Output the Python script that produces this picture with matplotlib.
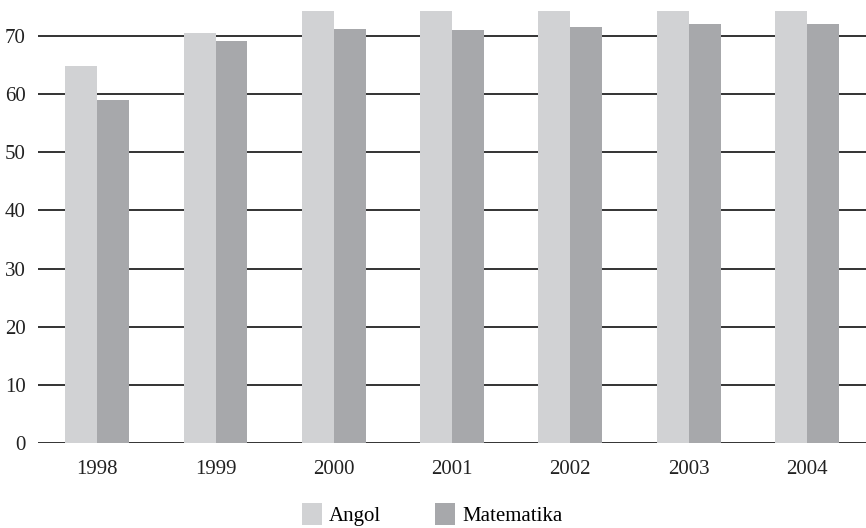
import numpy as np
import matplotlib.pyplot as plt

years = ['1998', '1999', '2000', '2001', '2002', '2003', '2004']
angol = [64.8, 70.5, 76, 76, 76, 76, 76]
matematika = [59.0, 69.1, 71.2, 71.0, 71.6, 72.1, 72.1]
yticks = [0, 10, 20, 30, 40, 50, 60, 70]

plt.rcParams['font.family'] = ['Liberation Serif', 'DejaVu Serif']

fig = plt.figure(figsize=(8.66, 5.28), dpi=100)
ax = fig.add_axes([0.044, 0.161, 0.956, 0.818])

x = np.arange(len(years))
w = 0.27
ax.bar(x - w / 2, angol, width=w, color='#d1d2d4', label='Angol', zorder=3)
ax.bar(x + w / 2, matematika, width=w, color='#a7a8ab', label='Matematika', zorder=3)

ax.set_xlim(-0.5, len(years) - 0.5)
ax.set_ylim(0, 74.3)
ax.set_yticks(yticks)
ax.set_xticks(x)
ax.set_xticklabels(years)
ax.yaxis.grid(True, color='#333333', linewidth=1.4, zorder=1)
ax.set_axisbelow(True)
for s in ax.spines.values():
    s.set_visible(False)
ax.tick_params(length=0, labelsize=15, colors='#222222')
ax.tick_params(axis='x', pad=12)
ax.tick_params(axis='y', pad=9)

fig.legend(loc='lower center', bbox_to_anchor=(0.499, -0.032), ncol=2, frameon=False,
           fontsize=15, handlelength=0.95, handleheight=1.25, columnspacing=2.6,
           handletextpad=0.35)

fig.savefig('out.png', dpi=100)
